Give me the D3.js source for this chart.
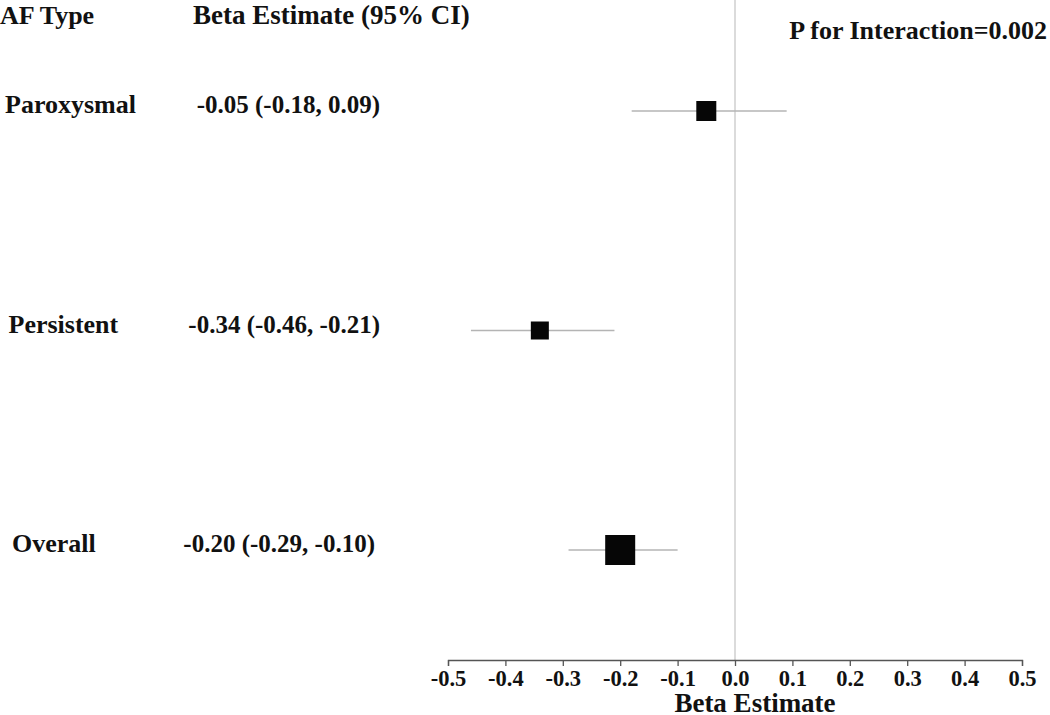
<!DOCTYPE html>
<html><head><meta charset="utf-8">
<script src="https://cdn.jsdelivr.net/npm/d3@7"></script>
<style>
html,body{margin:0;padding:0;background:#fff;}
svg{display:block;}
text{font-family:"Liberation Serif","Times New Roman",serif;font-weight:bold;fill:#111;}
</style></head>
<body>
<svg id="chart" width="1050" height="715"></svg>
<script>
const categories = ["Paroxysmal", "Persistent", "Overall"];
const estimates = [-0.05, -0.34, -0.20];
const lower = [-0.18, -0.46, -0.29];
const upper = [0.09, -0.21, -0.10];
const weights = [1.0, 0.9, 1.5];   // relative marker size
const ciLabels = ["-0.05 (-0.18, 0.09)", "-0.34 (-0.46, -0.21)", "-0.20 (-0.29, -0.10)"];
const tickValues = [-0.5,-0.4,-0.3,-0.2,-0.1,0,0.1,0.2,0.3,0.4,0.5];
const tickLabels = ["-0.5","-0.4","-0.3","-0.2","-0.1","0.0","0.1","0.2","0.3","0.4","0.5"];
const pInteraction = "P for Interaction=0.002";

const svg = d3.select("#chart");
const x = d3.scaleLinear().domain([-0.5, 0.5]).range([448, 1022]);
const y = d3.scalePoint().domain(categories).range([111, 550]);
const axisY = 660;

// zero reference line
svg.append("line").attr("x1", x(0)).attr("x2", x(0)).attr("y1", 0).attr("y2", axisY)
  .attr("stroke", "#c8c8c8").attr("stroke-width", 1.3);

// CI lines
svg.selectAll("line.ci").data(categories).enter().append("line").attr("class","ci")
  .attr("x1", (d,i)=>x(lower[i])).attr("x2", (d,i)=>x(upper[i]))
  .attr("y1", d=>y(d)).attr("y2", d=>y(d))
  .attr("stroke", "#b4b4b4").attr("stroke-width", 1.5);

// squares
const base = 20;
svg.selectAll("rect.pt").data(categories).enter().append("rect").attr("class","pt")
  .attr("x", (d,i)=>x(estimates[i]) - base*weights[i]/2)
  .attr("y", (d,i)=>y(d) - base*weights[i]/2)
  .attr("width", (d,i)=>base*weights[i]).attr("height", (d,i)=>base*weights[i])
  .attr("fill", "#060606");

// axis
const axis = d3.axisBottom(x).tickValues(tickValues).tickSize(6).tickPadding(4)
  .tickFormat((d,i)=>tickLabels[i]);
const gAx = svg.append("g").attr("transform", `translate(0,${axisY})`).call(axis);
gAx.select(".domain").attr("stroke", "#555").attr("stroke-width", 1.3);
gAx.selectAll(".tick line").attr("stroke", "#555").attr("stroke-width", 1.3);
gAx.selectAll(".tick text").attr("font-family", "Liberation Serif, serif").attr("font-weight","bold")
  .attr("font-size", 22.5).attr("fill", "#111");

svg.append("text").attr("x", 755).attr("y", 712).attr("text-anchor","middle")
  .attr("font-size", 27).text("Beta Estimate");

// headers
svg.append("text").attr("x", 0).attr("y", 24).attr("font-size", 26).attr("font-weight","normal").text("AF Type");
svg.append("text").attr("x", 193).attr("y", 24).attr("font-size", 27).text("Beta Estimate (95% CI)");
svg.append("text").attr("x", 1047).attr("y", 38.5).attr("text-anchor","end").attr("font-size", 26).text(pInteraction);

// row labels
svg.selectAll("text.cat").data(categories).enter().append("text").attr("class","cat")
  .attr("x", (d,i)=>5 + i*3.5).attr("y", d=>y(d)+2).attr("font-size", 26).text(d=>d);
svg.selectAll("text.val").data(categories).enter().append("text").attr("class","val")
  .attr("x", (d,i)=> i===2 ? 375 : 380).attr("y", d=>y(d)+2).attr("text-anchor","end")
  .attr("font-size", 25).text((d,i)=>ciLabels[i]);
</script>
</body></html>
